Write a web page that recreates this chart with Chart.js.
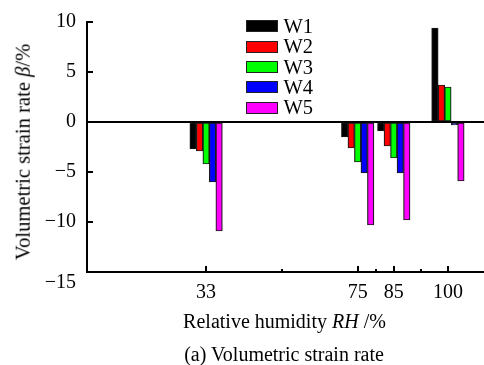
<!DOCTYPE html>
<html><head><meta charset="utf-8">
<script src="https://cdn.jsdelivr.net/npm/chart.js@4.4.0/dist/chart.umd.min.js"></script>
<style>
html,body{margin:0;padding:0;background:#fff;}
#wrap{position:relative;width:484px;height:365px;font-family:"Liberation Serif","Times New Roman",serif;color:#000;overflow:hidden;}
canvas{position:absolute;left:0;top:0;}
.t{position:absolute;white-space:nowrap;font-size:20px;line-height:1;transform:translate(-50%,-50%);}
#ytitle{left:23px;top:152px;font-size:20.6px;transform:translate(-50%,-50%) rotate(-90deg);}
#xtitle{left:284.5px;top:321px;}
#caption{left:284px;top:354px;}
#legend{position:absolute;left:246px;top:16.2px;}
.row{display:flex;align-items:center;height:20.3px;font-size:20.5px;line-height:1;}
.box{box-sizing:border-box;width:32px;height:12px;border:1.6px solid #222;}
.lab{margin-left:5.5px;}
</style></head><body>
<div id="wrap"><canvas id="c" width="484" height="365"></canvas>
<div id="ytitle" class="t">Volumetric strain rate <i>β</i>/%</div>
<div id="xtitle" class="t">Relative humidity <i>RH</i> /%</div>
<div id="caption" class="t">(a) Volumetric strain rate</div>
<div id="legend"></div>
</div>
<script>
const categories = [33, 75, 85, 100];
const seriesNames = ['W1', 'W2', 'W3', 'W4', 'W5'];
const W1 = [-2.7, -1.5, -0.9, 9.4];
const W2 = [-2.9, -2.6, -2.4, 3.7];
const W3 = [-4.2, -4.0, -3.6, 3.5];
const W4 = [-6.0, -5.1, -5.1, -0.3];
const W5 = [-10.9, -10.3, -9.8, -5.9];
const minorTicks = [54, 80, 92.5];
const yTicks = [-15, -10, -5, 0, 5, 10];
const colors = ['#000000', '#ff0000', '#00ff00', '#0000ff', '#ff00ff'];
const seriesValues = [W1, W2, W3, W4, W5];

const datasets = seriesNames.map((name, k) => ({
  label: name,
  data: categories.map((x, i) => ({x: x, y: seriesValues[k][i]})),
  backgroundColor: colors[k],
  borderColor: '#1a1a1a',
  borderWidth: 1.2,
  borderSkipped: false,
  barThickness: 6.5
}));

// HTML legend built from series
const lg = document.getElementById('legend');
seriesNames.forEach((n, k) => {
  const r = document.createElement('div'); r.className = 'row';
  const b = document.createElement('div'); b.className = 'box'; b.style.background = colors[k];
  const l = document.createElement('span'); l.className = 'lab'; l.textContent = n;
  r.appendChild(b); r.appendChild(l); lg.appendChild(r);
});

const tickPlugin = {
  id: 'axisTicks',
  afterDraw(chart) {
    const {ctx, chartArea: a, scales: {x, y}} = chart;
    ctx.save();
    ctx.strokeStyle = '#000'; ctx.lineWidth = 2;
    categories.forEach(v => {
      const px = Math.round(x.getPixelForValue(v));
      ctx.beginPath(); ctx.moveTo(px, a.bottom); ctx.lineTo(px, a.bottom - 6); ctx.stroke();
    });
    minorTicks.forEach(v => {
      const px = Math.round(x.getPixelForValue(v));
      ctx.beginPath(); ctx.moveTo(px, a.bottom); ctx.lineTo(px, a.bottom - 3); ctx.stroke();
    });
    yTicks.forEach(v => {
      const py = Math.round(y.getPixelForValue(v));
      ctx.beginPath(); ctx.moveTo(a.left, py); ctx.lineTo(a.left + 6, py); ctx.stroke();
    });
    ctx.restore();
  }
};

const tickFont = {family: '"Liberation Serif","Times New Roman",serif', size: 20, lineHeight: 1.1};

new Chart(document.getElementById('c'), {
  type: 'bar',
  data: {datasets},
  options: {
    responsive: false,
    animation: false,
    layout: {padding: {top: 18, right: 0, left: 0, bottom: 0}},
    plugins: {legend: {display: false}, tooltip: {enabled: false}},
    scales: {
      x: {
        type: 'linear', min: 0, max: 110, offset: false,
        afterBuildTicks: s => { s.ticks = categories.map(v => ({value: v})); },
        afterFit: s => { s.height = 93; },
        grid: {display: false, drawTicks: false},
        border: {display: true, color: '#000', width: 2},
        ticks: {color: '#000', font: tickFont, padding: 10, maxRotation: 0, autoSkip: false,
                callback: v => String(v)}
      },
      y: {
        min: -15, max: 10,
        afterBuildTicks: s => { s.ticks = yTicks.map(v => ({value: v})); },
        afterFit: s => { s.width = 87; },
        grid: {display: true, drawTicks: false, drawOnChartArea: true,
               color: c => (c.tick && c.tick.value === 0) ? '#000' : 'rgba(0,0,0,0)', lineWidth: 2},
        border: {display: true, color: '#000', width: 2},
        ticks: {color: '#000', font: tickFont, padding: 11,
                callback: v => {
                  const s = String(v).replace('-', '\u2212');
                  return v === -15 ? ['', s] : s;
                }}
      }
    }
  },
  plugins: [tickPlugin]
});
</script>
</body></html>
